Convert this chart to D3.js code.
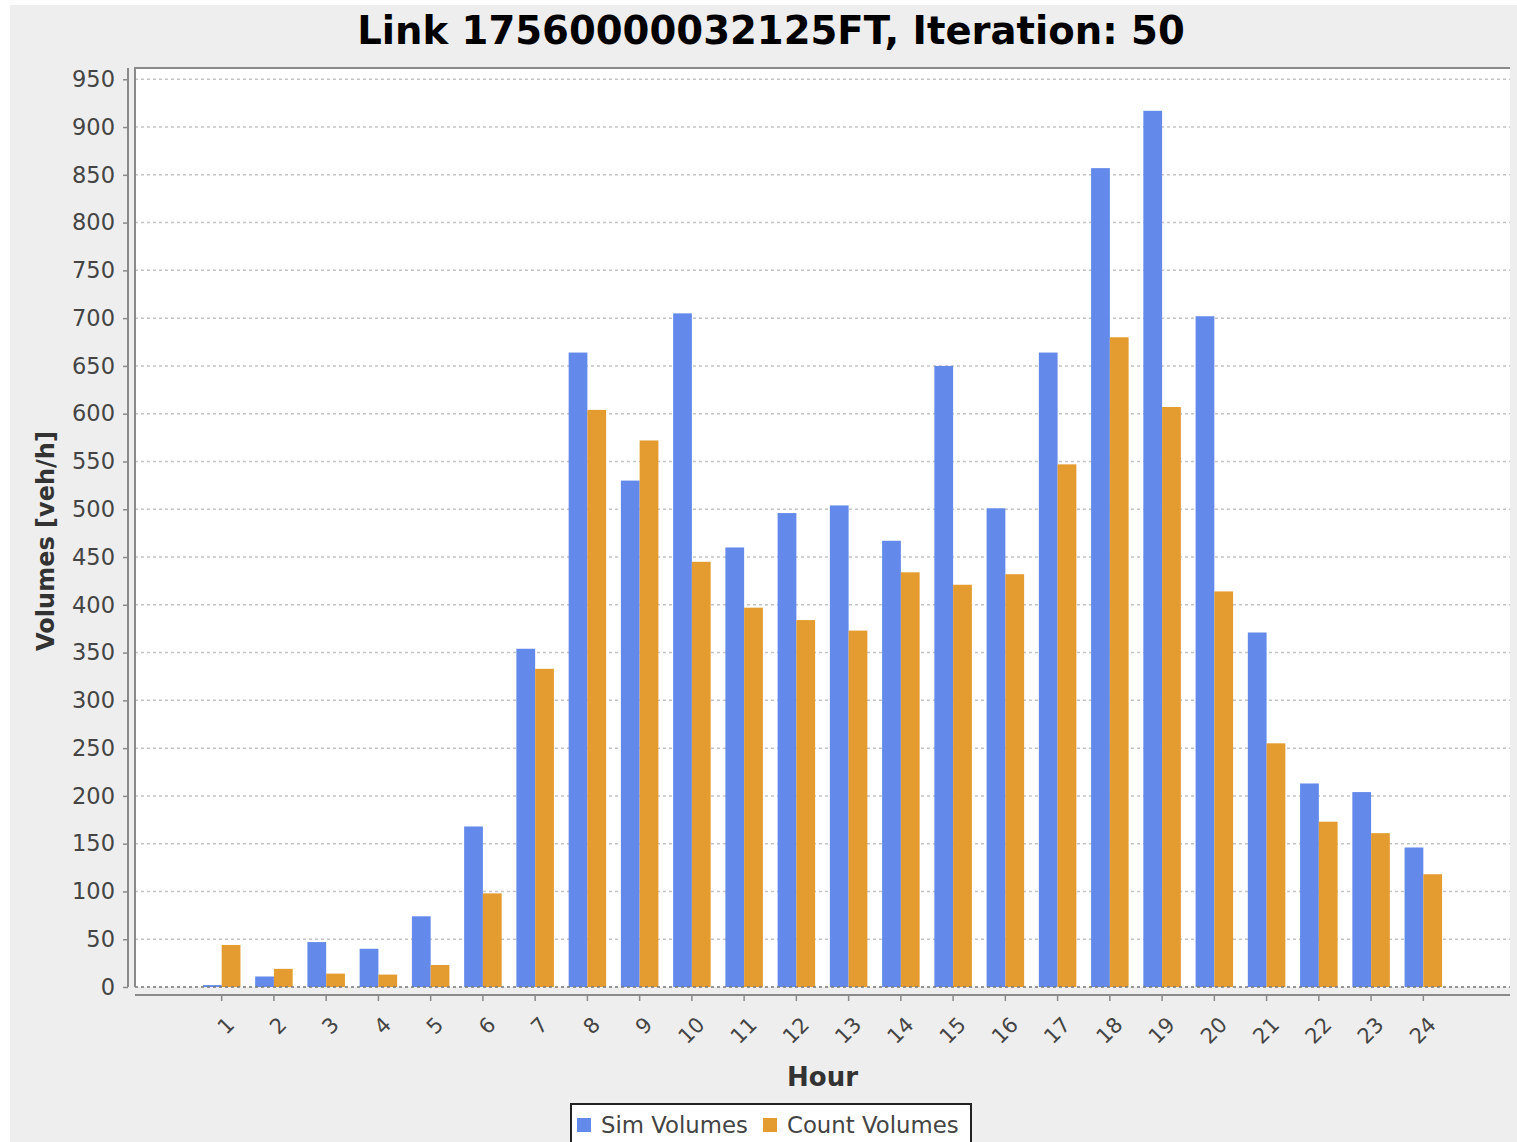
<!DOCTYPE html>
<html>
<head>
<meta charset="utf-8">
<script src="https://cdn.jsdelivr.net/npm/d3@7"></script>
<style>
    body { margin: 0; background: #fff; }
    svg { display: block; font-family: "DejaVu Sans", sans-serif; }
</style>
</head>
<body>
<div id="chart"></div>
<script>
// hours on the x axis
var hours = d3.range(1, 25)
// simulated volumes per hour [veh/h]
var simVolumes = [2, 11, 47, 40, 74, 168, 354, 664, 530, 705, 460, 496,
    504, 467, 650, 501, 664, 857, 917, 702, 371, 213, 204, 146]
// counted volumes per hour [veh/h]
var countVolumes = [44, 19, 14, 13, 23, 98, 333, 604, 572, 445, 397, 384,
    373, 434, 421, 432, 547, 680, 607, 414, 255, 173, 161, 118]
var yTicks = d3.range(0, 951, 50)
var seriesNames = ['Sim Volumes', 'Count Volumes']
var seriesColors = ['#6389eb', '#e49b2f']

var W = 1517, H = 1142
var plot = { left: 135, right: 1510, top: 68, bottom: 987 }

var svg = d3.select('#chart').append('svg')
    .attr('width', W).attr('height', H)

// chart panel background
svg.append('rect').attr('x', 10).attr('y', 5)
    .attr('width', W - 10).attr('height', H - 5).attr('fill', '#eeeeee')

svg.append('text')
    .attr('x', 771).attr('y', 44)
    .attr('text-anchor', 'middle')
    .attr('font-size', 38.6).attr('font-weight', 'bold').attr('fill', '#000')
    .text('Link 17560000032125FT, Iteration: 50')

svg.append('rect')
    .attr('x', plot.left).attr('y', plot.top)
    .attr('width', plot.right - plot.left).attr('height', plot.bottom - plot.top)
    .attr('fill', '#fff')

var x = d3.scaleBand().domain(hours)
    .range([plot.left, plot.right])
    .paddingInner(0.282).paddingOuter(1.3)
var xs = d3.scaleBand().domain([0, 1]).range([0, x.bandwidth()])
var y = d3.scaleLinear().domain([0, 961.8]).range([plot.bottom, plot.top])

// grid lines
svg.append('g').selectAll('line')
    .data(yTicks.filter(d => d > 0))
    .enter().append('line')
    .attr('x1', plot.left).attr('x2', plot.right)
    .attr('y1', d => y(d)).attr('y2', d => y(d))
    .attr('stroke', '#c4c4c4').attr('stroke-width', 1.5)
    .attr('stroke-dasharray', '3,3')

// bars
var rows = hours.map((h, i) => ({ hour: h, vals: [simVolumes[i], countVolumes[i]] }))
var grp = svg.append('g').selectAll('g')
    .data(rows)
    .enter().append('g')
    .attr('transform', d => 'translate(' + x(d.hour) + ',0)')
grp.selectAll('rect')
    .data(d => d.vals.map((v, k) => ({ k: k, v: v })))
    .enter().append('rect')
    .attr('x', d => xs(d.k))
    .attr('width', xs.bandwidth())
    .attr('y', d => y(d.v))
    .attr('height', d => y(0) - y(d.v))
    .attr('fill', d => seriesColors[d.k])

// zero line and plot outline
svg.append('line')
    .attr('x1', plot.left).attr('x2', plot.right)
    .attr('y1', y(0)).attr('y2', y(0))
    .attr('stroke', '#777').attr('stroke-width', 1.5).attr('stroke-dasharray', '3,3')
svg.append('path')
    .attr('d', 'M' + plot.left + ',' + plot.bottom + 'V' + plot.top + 'H' + plot.right)
    .attr('fill', 'none').attr('stroke', '#8a8a8a').attr('stroke-width', 2)

// y axis
var yAxis = svg.append('g')
    .attr('transform', 'translate(128,0)')
    .call(d3.axisLeft(y).tickValues(yTicks).tickSize(5).tickPadding(8).tickSizeOuter(0))
yAxis.select('.domain').attr('stroke', '#8a8a8a').attr('stroke-width', 2)
    .attr('d', 'M0,' + plot.top + 'V' + plot.bottom)
yAxis.selectAll('.tick line').attr('stroke', '#8a8a8a').attr('stroke-width', 1.5)
yAxis.selectAll('.tick text')
    .attr('font-size', 22.5).attr('fill', '#444').attr('font-family', '"DejaVu Sans", sans-serif')

// x axis
var xAxis = svg.append('g')
    .attr('transform', 'translate(0,995)')
    .call(d3.axisBottom(x).tickSize(6).tickSizeOuter(0))
xAxis.select('.domain').attr('stroke', '#8a8a8a').attr('stroke-width', 2)
    .attr('d', 'M' + plot.left + ',0H' + plot.right)
xAxis.selectAll('.tick line').attr('stroke', '#8a8a8a').attr('stroke-width', 1.5)
xAxis.selectAll('.tick text')
    .attr('font-size', 21).attr('fill', '#444').attr('font-family', '"DejaVu Sans", sans-serif')
    .attr('text-anchor', 'end').attr('dy', null).attr('y', 0)
    .attr('transform', 'translate(14,31) rotate(-45)')

svg.append('text')
    .attr('x', (plot.left + plot.right) / 2).attr('y', 1086)
    .attr('text-anchor', 'middle')
    .attr('font-size', 26).attr('font-weight', 'bold').attr('fill', '#333')
    .text('Hour')

svg.append('text')
    .attr('transform', 'translate(54,541) rotate(-90)')
    .attr('text-anchor', 'middle')
    .attr('font-size', 24).attr('font-weight', 'bold').attr('fill', '#333')
    .text('Volumes [veh/h]')

// legend
var lg = svg.append('g')
lg.append('rect').attr('x', 571).attr('y', 1104).attr('width', 400).attr('height', 50)
    .attr('fill', '#fff').attr('stroke', '#222').attr('stroke-width', 2)
var legX = [577, 763]
seriesNames.forEach((s, i) => {
    lg.append('rect').attr('x', legX[i]).attr('y', 1118).attr('width', 14).attr('height', 14)
        .attr('fill', seriesColors[i])
    lg.append('text').attr('x', legX[i] + 24).attr('y', 1133)
        .attr('font-size', 22.8).attr('fill', '#444').text(s)
})
</script>
</body>
</html>
